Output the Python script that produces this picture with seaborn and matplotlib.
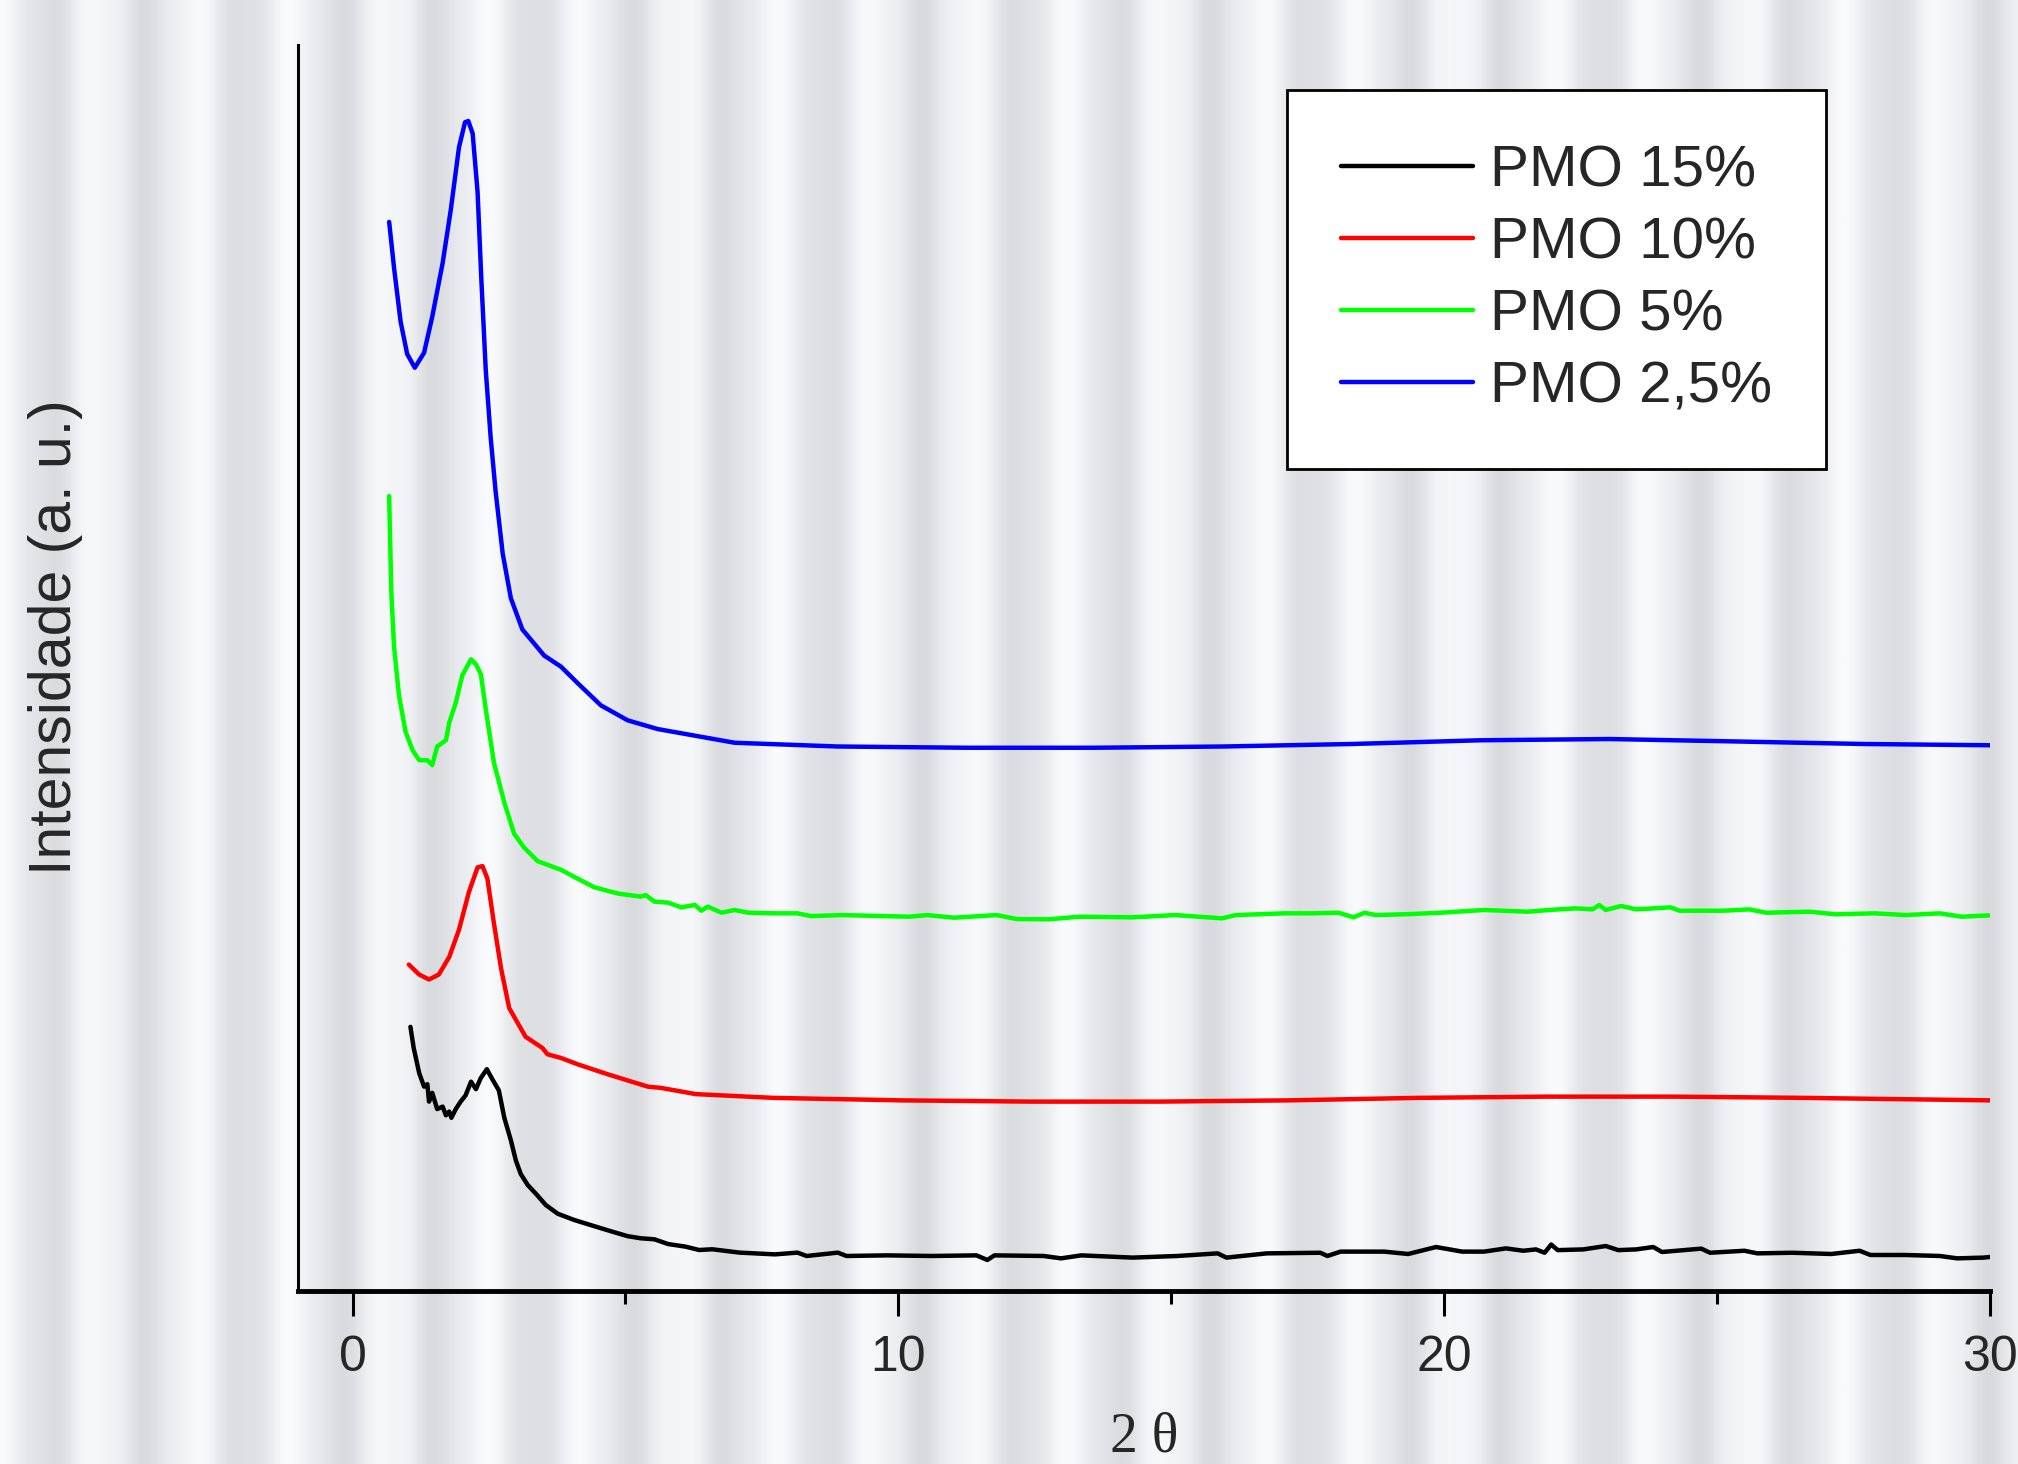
import numpy as np
import matplotlib
matplotlib.use("Agg")
import matplotlib.pyplot as plt
from matplotlib.colors import LinearSegmentedColormap
import seaborn as sns

# ---------------------------------------------------------------------------
# data (2 theta, intensity in a.u., curves offset)
# ---------------------------------------------------------------------------
labels = ["PMO 15%", "PMO 10%", "PMO 5%", "PMO 2,5%"]
colors = ["#000000", "#ff0000", "#00ff00", "#0000ff"]

black_x = [1.06, 1.12, 1.22, 1.31, 1.37, 1.40, 1.46, 1.55, 1.65, 1.71, 1.77, 1.81,
           1.89, 1.98, 2.07, 2.17, 2.26, 2.35, 2.46, 2.56, 2.68, 2.78, 2.90, 2.99,
           3.08, 3.21, 3.36, 3.54, 3.76, 4.06, 4.43, 4.73, 5.04,
           5.28, 5.53, 5.78, 6.10, 6.35, 6.59, 7.09, 7.74, 8.15, 8.32, 8.89, 9.05,
           9.79, 10.61, 11.43, 11.63, 11.76, 12.66, 12.98, 13.35, 14.29, 15.11,
           15.85, 16.01, 16.75, 17.73, 17.86, 18.10, 18.90, 19.34, 19.85, 20.33,
           20.73, 21.13, 21.45, 21.68, 21.84, 21.96, 22.08, 22.55, 22.96, 23.19,
           23.52, 23.83, 23.99, 24.71, 24.87, 25.50, 25.74, 26.38, 27.09, 27.61,
           27.81, 28.45, 29.08, 29.40, 29.88, 30.0]
black_y = [21.2, 19.5, 17.5, 16.4, 16.6, 15.2, 15.9, 14.6, 14.8, 14.1, 14.4, 13.9,
           14.6, 15.2, 15.7, 16.8, 16.2, 17.1, 17.8, 17.0, 16.1, 13.9, 12.1, 10.5,
           9.4, 8.5, 7.8, 6.9, 6.2, 5.7, 5.2, 4.8, 4.4,
           4.23, 4.15, 3.77, 3.56, 3.29, 3.35, 3.08, 2.94, 3.08, 2.81, 3.08, 2.81,
           2.86, 2.81, 2.86, 2.49, 2.86, 2.81, 2.62, 2.86, 2.68, 2.81,
           3.02, 2.68, 3.02, 3.07, 2.81, 3.16, 3.16, 2.97, 3.53, 3.16,
           3.16, 3.42, 3.23, 3.34, 3.07, 3.73, 3.28, 3.34, 3.61, 3.28,
           3.34, 3.53, 3.13, 3.40, 3.07, 3.23, 3.02, 3.07, 2.97, 3.23,
           2.89, 2.89, 2.81, 2.62, 2.68, 2.73]

red_x = [1.03, 1.22, 1.40, 1.58, 1.77, 1.95, 2.13, 2.29, 2.38, 2.47, 2.59, 2.72,
         2.87, 3.17, 3.48, 3.57, 3.82, 4.12, 4.67, 5.04, 5.41, 5.65, 6.29, 7.71,
         10.07, 12.43, 14.79, 17.15, 19.51, 21.87, 24.23, 26.59, 30.0]
red_y = [26.2, 25.4, 25.0, 25.4, 26.8, 29.0, 32.0, 34.0, 34.1, 33.1, 29.5, 25.9,
         22.7, 20.4, 19.5, 19.0, 18.7, 18.2, 17.4, 16.9, 16.4, 16.3, 15.8, 15.5,
         15.3, 15.2, 15.2, 15.3, 15.5, 15.6, 15.6, 15.5, 15.3]

green_x = [0.67, 0.71, 0.76, 0.85, 0.97, 1.10, 1.22, 1.37, 1.46, 1.55, 1.71, 1.77,
           1.89, 2.01, 2.17, 2.26, 2.35, 2.44, 2.59, 2.78, 2.96, 3.14, 3.39, 3.82,
           4.12, 4.43, 4.86,
           5.28, 5.37, 5.53, 5.78, 6.02, 6.27, 6.39, 6.51, 6.76, 7.00, 7.25, 7.74,
           8.15, 8.40, 8.97, 10.20, 10.53, 11.02, 11.80, 12.17, 12.76, 13.31, 14.29,
           15.07, 15.93, 16.18, 17.08, 17.57, 18.06, 18.34, 18.54, 18.74, 19.38,
           19.94, 20.73, 21.53, 21.92, 22.40, 22.72, 22.84, 22.96, 23.24, 23.52,
           24.15, 24.31, 25.11, 25.59, 25.90, 26.70, 27.17, 27.89, 28.45, 29.08,
           29.48, 30.0]
green_y = [63.8, 56.0, 51.7, 47.8, 44.9, 43.4, 42.6, 42.6, 42.2, 43.7, 44.2, 45.6,
           47.2, 49.4, 50.7, 50.3, 49.5, 46.7, 42.4, 39.2, 36.7, 35.6, 34.5, 33.8,
           33.1, 32.4, 31.9,
           31.65, 31.78, 31.25, 31.17, 30.79, 30.98, 30.52, 30.85, 30.36, 30.58, 30.36, 30.31,
           30.31, 30.09, 30.17, 30.04, 30.17, 29.96, 30.17, 29.85, 29.83, 30.04, 29.99,
           30.17, 29.91, 30.17, 30.31, 30.31, 30.36, 29.99, 30.36, 30.17, 30.25,
           30.36, 30.58, 30.44, 30.58, 30.71, 30.63, 30.98, 30.58, 30.90, 30.63,
           30.79, 30.52, 30.52, 30.63, 30.36, 30.44, 30.23, 30.31, 30.17, 30.31,
           30.04, 30.15]

blue_x = [0.67, 0.76, 0.88, 1.00, 1.14, 1.31, 1.46, 1.65, 1.80, 1.95, 2.06, 2.12,
          2.20, 2.29, 2.36, 2.44, 2.53, 2.62, 2.75, 2.90, 3.11, 3.51, 3.82, 4.12,
          4.55, 5.04, 5.59, 7.0, 8.89, 11.24, 13.6, 15.96, 18.3, 20.67, 23.03,
          25.4, 27.7, 30.0]
blue_y = [85.8, 82.1, 77.8, 75.2, 74.1, 75.3, 78.2, 82.5, 86.8, 91.8, 93.8, 93.9,
          92.9, 88.2, 81.1, 73.9, 68.5, 64.2, 59.2, 55.6, 53.1, 51.0, 50.1, 48.8,
          47.0, 45.8, 45.1, 44.0, 43.7, 43.6, 43.6, 43.7, 43.9, 44.2, 44.3,
          44.1, 43.9, 43.8]

series = [(black_x, black_y), (red_x, red_y), (green_x, green_y), (blue_x, blue_y)]

major_ticks = [0, 10, 20, 30]
minor_ticks = [5, 15, 25]

# ---------------------------------------------------------------------------
# figure
# ---------------------------------------------------------------------------
sns.set_style("ticks")
plt.rcParams["font.family"] = ["Liberation Sans", "DejaVu Sans"]

fig = plt.figure(figsize=(20.18, 14.64), dpi=100)

# striped grey backdrop (decoration only)
bg = fig.add_axes([0, 0, 1, 1], zorder=-5)
cols = np.arange(2018)
stripe = 0.5 + 0.42 * np.cos(2 * np.pi * cols / 97.0) + 0.08 * np.cos(2 * np.pi * cols / 41.0)
bg_cmap = LinearSegmentedColormap.from_list("bg", ["#d8dadd", "#e9ebee", "#fafbfd"])
bg.imshow(np.tile(stripe, (10, 1)), cmap=bg_cmap, vmin=0, vmax=1, aspect="auto",
          extent=[0, 1, 0, 1], interpolation="bilinear")
bg.axis("off")

ax = fig.add_axes([298 / 2018, 1 - 1291 / 1464, (1990 - 298) / 2018, (1291 - 45) / 1464])
ax.patch.set_alpha(0)

for (xs, ys), lab, c in zip(series, labels, colors):
    sns.lineplot(x=xs, y=ys, color=c, label=lab, linewidth=3.2, ax=ax,
                 sort=False, estimator=None)

ax.set_xlim(-1, 30)
ax.set_ylim(0, 100)

sns.despine(ax=ax)
ax.spines["bottom"].set_linewidth(3.5)
ax.spines["left"].set_linewidth(2.2)
ax.spines["bottom"].set_color("black")
ax.spines["left"].set_color("black")

ax.set_xticks(major_ticks)
ax.set_xticks(minor_ticks, minor=True)
ax.set_xticklabels([str(t) for t in major_ticks], fontsize=36)
ax.tick_params(axis="x", which="major", length=18, width=2.2, direction="out",
               color="black", pad=14)
ax.tick_params(axis="x", which="minor", length=9, width=2.2, direction="out",
               color="black")
ax.set_yticks([])

fig.text(1144 / 2018, 0.0, "2 \u03b8", family=["Liberation Serif", "DejaVu Serif"],
         fontsize=40, ha="center", va="bottom")
ax.set_ylabel("Intensidade (a. u.)", fontsize=42.5)
ax.yaxis.set_label_coords(-0.127, 0.525)

leg = ax.legend(loc="upper left", bbox_to_anchor=(1287 / 2018, 1 - 90 / 1464),
                bbox_transform=fig.transFigure, borderaxespad=0, fontsize=42,
                frameon=True, fancybox=False, framealpha=1, edgecolor="black",
                handlelength=2.25, handletextpad=0.3, labelspacing=0.31,
                borderpad=0.93)
leg.get_frame().set_linewidth(2)
for line in leg.get_lines():
    line.set_linewidth(3.2)

fig.savefig("out.png", dpi=100)
